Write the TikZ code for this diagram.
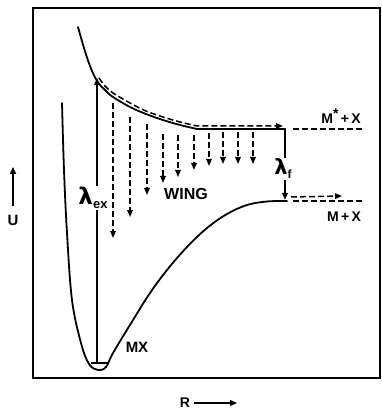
\documentclass[tikz,border=0pt]{standalone}
\usepackage{fontspec}
\setmainfont{Liberation Sans}
\newfontfamily\lamfont{DejaVu Sans}
\usetikzlibrary{arrows.meta}
\begin{document}
\begin{tikzpicture}[x=1pt,y=-1pt,
  curve/.style={line width=1.8pt,line join=round,line cap=round},
  frame/.style={line width=1.8pt},
  dsh/.style={line width=1.5pt,dash pattern=on 6pt off 3pt},
  tip/.style={-{Triangle[length=7pt,width=5.5pt]}},
  lbl/.style={font=\bfseries\fontsize{14}{14}\selectfont, inner sep=0pt},
  lam/.style={fill=white, inner sep=1pt}]
\useasboundingbox (0,0) rectangle (381,411);
\draw[frame] (33,8) rectangle (380,378);
% upper curve
\draw[curve] plot[smooth,tension=0.6] coordinates {(78,27) (84,48) (90,66) (97,81) (105,90) (113,97) (130,107) (146,114) (163,120) (180,125) (197,129)} -- (285,129);
\draw[dsh] (293,129) -- (365,129);
% dashed arrow along upper curve
\draw[dsh,tip] plot[smooth,tension=0.6] coordinates {(99,78) (105,86) (113,93) (130,103) (146,111) (163,117) (180,122) (197,126)} -- (283,126);
% lower curve
\draw[curve] plot[smooth,tension=0.6] coordinates {(62,103) (64,170) (67,233) (72,300) (81,343) (89,364) (98,370) (106,367) (113,353) (133,320) (150,293) (167,270) (187,247) (207,228) (227,214) (247,205) (267,201.5) (287,201)};
\draw[dsh] (293,201) -- (362,201);
\draw[line width=1.4pt] (91,363) -- (108,363);
% down arrows (wing)
\foreach \x/\t/\b in {113/103/238, 130/117/217, 147/124/195, 163/134/183, 178/135/177, 194/135/170, 209/133/166, 223/132/164, 238/132/164, 253/132/164}
  \draw[dsh,tip] (\x,\t) -- (\x,\b);
% lambda ex
\coordinate (gs) at (97,363);
\coordinate (ex) at (97,78);
\draw[curve,tip] (gs) -- (ex);
\node[lam] (lex) at (93,198) {{\lamfont\bfseries\fontsize{23}{23}\selectfont λ}\raisebox{-4pt}{\bfseries\fontsize{13}{13}\selectfont ex}};
% lambda f
\coordinate (fa) at (285,129);
\coordinate (fb) at (285,200);
\draw[curve,tip] (fa) -- (fb);
\node[lam] (lf) at (283,169) {{\lamfont\bfseries\fontsize{21}{21}\selectfont λ}\raisebox{-4pt}{\bfseries\fontsize{12}{12}\selectfont f}};
\draw[dsh,tip] (291,197) -- (342,196);
% labels
\node[lbl] (ms) at (341,116) {M\raisebox{5pt}{*}\,+\,X};
\node[lbl] (m) at (344,217) {M\,+\,X};
\node[lbl,font=\bfseries\fontsize{16}{16}\selectfont] (wing) at (186,194) {WING};
\node[lbl,font=\bfseries\fontsize{15}{15}\selectfont] (mx) at (137,347) {MX};
\node[lbl,font=\bfseries\fontsize{15}{15}\selectfont] (u) at (13,220) {U};
\coordinate (ua) at (13,206);
\coordinate (ub) at (13,167);
\draw[line width=1.6pt,-{Triangle[length=7pt,width=6pt]}] (ua) -- (ub);
\node[lbl] (r) at (185,403) {R};
\coordinate (ra) at (194,403);
\coordinate (rb) at (237,403);
\draw[line width=1.2pt,-{Triangle[length=7pt,width=6pt]}] (ra) -- (rb);
\end{tikzpicture}
\end{document}
